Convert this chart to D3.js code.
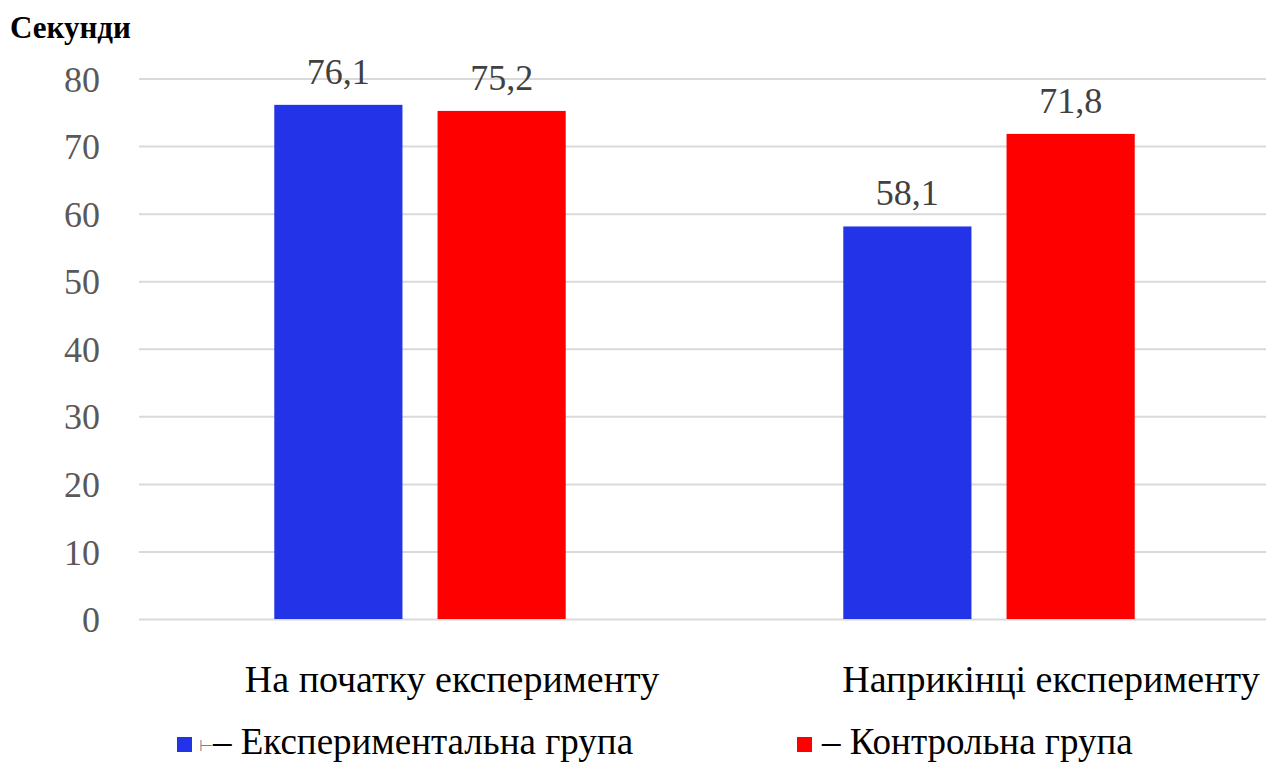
<!DOCTYPE html>
<html>
<head>
<meta charset="utf-8">
<script src="https://cdn.jsdelivr.net/npm/d3@7"></script>
<style>
  html, body { margin: 0; padding: 0; background: #fff; }
  svg { display: block; }
  .tick text { font-family: "Liberation Serif"; font-size: 36px; fill: #595959; }
  .val { font-family: "Liberation Serif"; font-size: 36px; fill: #404040; }
  .cat { font-family: "Liberation Serif"; font-size: 38px; fill: #000; }
  .ytitle { font-family: "Liberation Serif"; font-size: 31px; font-weight: bold; fill: #000; }
  .leg { font-family: "Liberation Serif"; font-size: 37px; fill: #000; }
  .legmark { font-family: "Liberation Serif"; font-size: 16px; fill: #808080; }
</style>
</head>
<body>
<svg id="chart" width="1266" height="764"></svg>
<script>
// Час виконання тесту (секунди) на початку та наприкінці експерименту
const categories = ["На початку експерименту", "Наприкінці експерименту"];
const seriesNames = ["Експериментальна група", "Контрольна група"];
const experimental = [76.1, 58.1];
const control = [75.2, 71.8];
const yTicks = [0, 10, 20, 30, 40, 50, 60, 70, 80];
const yTitle = "Секунди";

const seriesValues = [experimental, control];
const colors = ["#2233e8", "#ff0000"];

const plot = { left: 139, right: 1266, top: 78.5, bottom: 619 };

const svg = d3.select("#chart");

const y = d3.scaleLinear().domain([0, 80]).range([plot.bottom, plot.top]);

const x0 = d3.scaleBand().domain(categories).range([135.5, 1273.5]).paddingInner(0).paddingOuter(0);
const x1 = d3.scaleBand().domain(seriesNames).range([0, x0.bandwidth()])
  .paddingInner(0.215).paddingOuter(0.85);

// Горизонтальні лінії сітки та підписи осі Y
const yAxis = d3.axisLeft(y).tickValues(yTicks).tickSize(-(plot.right - plot.left)).tickPadding(39)
  .tickFormat(d3.format("d"));
const gy = svg.append("g").attr("transform", `translate(${plot.left},0)`).call(yAxis)
  .attr("font-family", null).attr("font-size", null);
gy.select(".domain").remove();
gy.selectAll(".tick line").attr("stroke", "#d9d9d9").attr("stroke-width", 2);
gy.selectAll(".tick text").attr("fill", null).attr("dy", "0.35em");

// Стовпці
const cells = (d, i) => seriesNames.map((s, j) => ({ s, j, v: seriesValues[j][i] }));
const groups = svg.append("g").selectAll("g")
  .data(categories)
  .join("g")
  .attr("transform", d => `translate(${x0(d)},0)`);

groups.selectAll("rect")
  .data(cells)
  .join("rect")
  .attr("x", d => x1(d.s))
  .attr("width", x1.bandwidth())
  .attr("y", d => y(d.v))
  .attr("height", d => y(0) - y(d.v))
  .attr("fill", d => colors[d.j]);

// Підписи значень над стовпцями
groups.selectAll("text.val")
  .data(cells)
  .join("text")
  .attr("class", "val")
  .attr("x", d => x1(d.s) + x1.bandwidth() / 2)
  .attr("y", d => y(d.v) - 21)
  .attr("text-anchor", "middle")
  .text(d => d.v.toFixed(1).replace(".", ","));

// Назви категорій під віссю
const catShift = [32, 62];
svg.append("g").selectAll("text")
  .data(categories)
  .join("text")
  .attr("class", "cat")
  .attr("x", (d, i) => x0(d) + x0.bandwidth() / 2 + catShift[i])
  .attr("y", 692)
  .attr("text-anchor", "middle")
  .text(d => d);

// Заголовок осі Y
svg.append("text")
  .attr("class", "ytitle")
  .attr("x", 10)
  .attr("y", 38)
  .text(yTitle);

// Легенда
const legendX = [177, 797];
const legend = svg.append("g").selectAll("g")
  .data(seriesNames)
  .join("g")
  .attr("transform", (d, i) => `translate(${legendX[i]},0)`);

legend.append("rect")
  .attr("x", 0).attr("y", 737)
  .attr("width", 15).attr("height", 15)
  .attr("fill", (d, i) => colors[i]);

legend.filter((d, i) => i === 0).append("text")
  .attr("class", "legmark")
  .attr("x", 22).attr("y", 751)
  .text("⊢");

legend.append("text")
  .attr("class", "leg")
  .attr("x", (d, i) => i === 0 ? 36 : 25)
  .attr("y", 754)
  .text(d => "– " + d);
</script>
</body>
</html>
